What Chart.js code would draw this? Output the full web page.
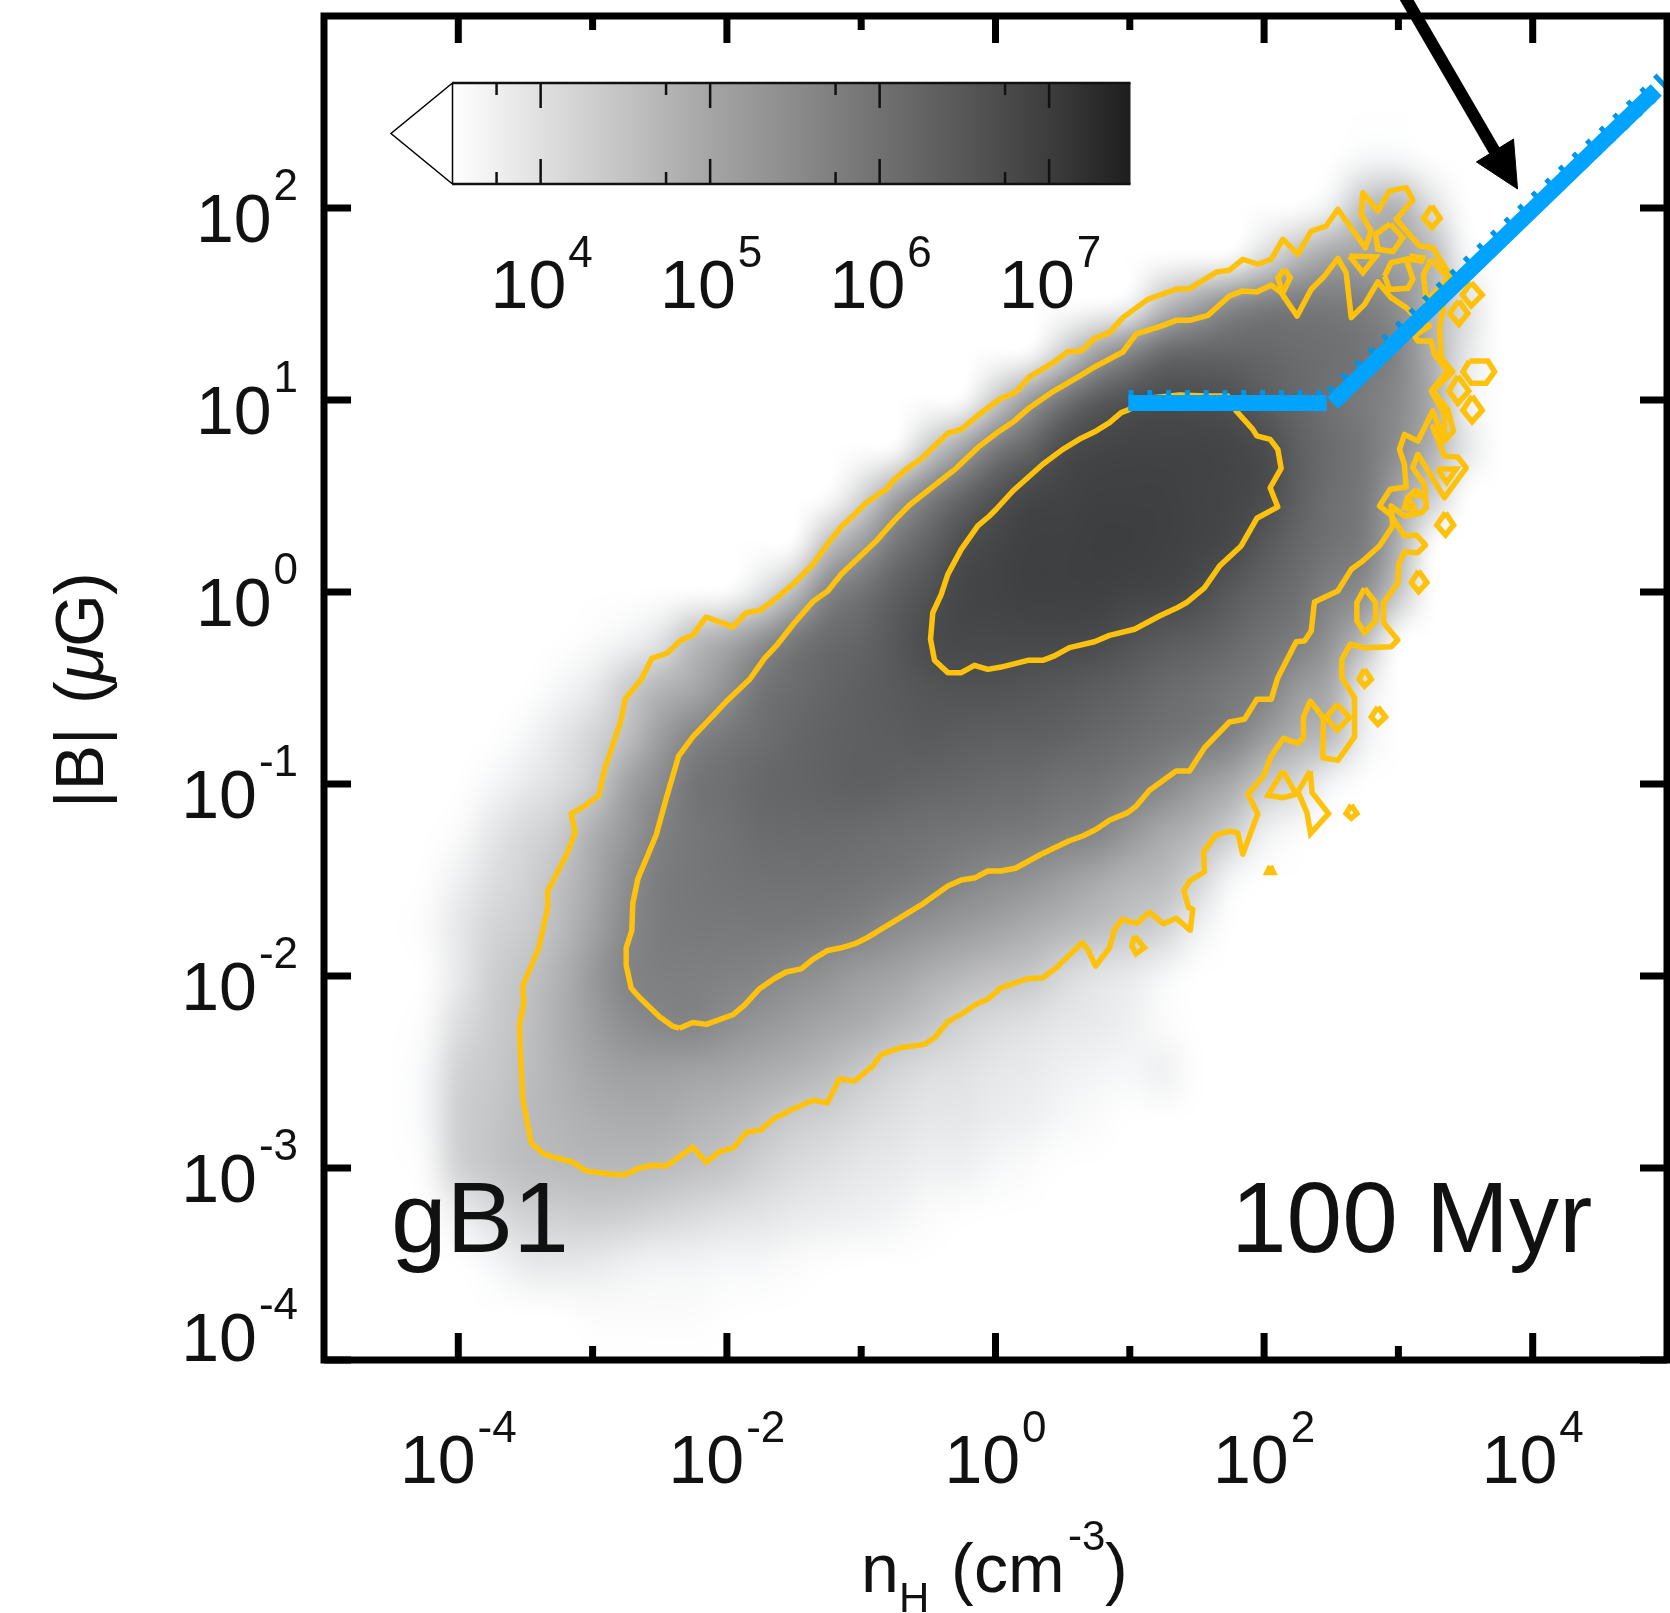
<!DOCTYPE html>
<html>
<head>
<meta charset="utf-8">
<title>gB1 100 Myr</title>
<script src="https://cdn.jsdelivr.net/npm/chart.js@4/dist/chart.umd.js"></script>
<style>
  body { margin: 0; background: #fff; }
  canvas { display: block; }
</style>
</head>
<body>
<canvas id="phase" width="1670" height="1613"></canvas>
<script>
// axes and ticks (powers of ten)
var xMajorPowers = [-4, -2, 0, 2, 4];
var xMinorPowers = [-3, -1, 1, 3];
var yMajorPowers = [2, 1, 0, -1, -2, -3, -4];
var cbMajorPowers = [4, 5, 6, 7];
var cbMinorPowers = [3.74, 4.74, 5.74, 6.74];

// colour bar: log10(count) -> grey level
var cbStopLogs = [3.48, 4, 5, 6, 7, 7.48];
var cbStopGreys = [255, 223, 164, 112, 60, 29];

// histogram: log10(count) per 0.25 dex cell
var heatStep = 0.25;
var heatLogB = [2.25, 2, 1.75, 1.5, 1.25, 1, 0.75, 0.5, 0.25, 0, -0.25, -0.5, -0.75, -1, -1.25, -1.5, -1.75, -2, -2.25, -2.5, -2.75, -3, -3.25, -3.5, -3.75];
var heatFromLogN = [2.75, 2.5, 2, 1, 0.5, 0, -0.5, -1, -1.25, -1.75, -3, -3.25, -3.5, -3.75, -4, -4.25, -4.25, -4.25, -4.25, -4.25, -4.25, -4.25, -4, -3.75, -3];
var heatCounts = [
  [3.6, 3.6],
  [3.7, 4.6, 4.8, 4.0],
  [4.0, 4.6, 5.0, 5.0, 5.0, 4.7, 3.6],
  [3.6, 4.5, 5.0, 5.5, 5.75, 5.8, 5.8, 5.7, 5.4, 4.7, 4.0],
  [4.2, 5.0, 5.6, 6.1, 6.2, 6.2, 6.15, 6.05, 6.0, 5.9, 5.6, 4.8, 3.9],
  [4.3, 5.2, 5.9, 6.4, 6.6, 6.7, 6.65, 6.6, 6.35, 6.15, 5.95, 5.75, 5.5, 4.9, 3.7],
  [4.3, 5.0, 5.8, 6.2, 6.7, 6.8, 6.85, 6.85, 6.85, 6.8, 6.7, 6.3, 6.05, 5.85, 5.4, 4.8, 3.9],
  [4.1, 5.0, 5.7, 6.2, 6.55, 6.8, 6.85, 6.9, 6.9, 6.9, 6.85, 6.8, 6.7, 6.3, 6.0, 5.8, 5.0, 4.3],
  [4.5, 5.1, 5.85, 6.25, 6.65, 6.8, 6.9, 6.9, 6.95, 6.95, 6.9, 6.85, 6.75, 6.45, 6.15, 5.95, 5.75, 4.8, 3.5],
  [3.9, 4.6, 5.6, 5.95, 6.3, 6.55, 6.8, 6.85, 6.9, 6.9, 6.9, 6.85, 6.8, 6.7, 6.4, 6.2, 6.0, 5.65, 5.4, 4.4],
  [3.55, 3.65, 3.9, 4.6, 4.9, 5.35, 5.85, 6.1, 6.2, 6.45, 6.7, 6.75, 6.75, 6.75, 6.75, 6.72, 6.55, 6.4, 6.3, 6.15, 5.95, 5.75, 5.3, 4.6],
  [3.6, 3.8, 4.3, 4.7, 4.9, 5.35, 5.9, 6.05, 6.2, 6.3, 6.4, 6.5, 6.55, 6.55, 6.5, 6.45, 6.35, 6.25, 6.1, 6.0, 5.85, 5.7, 5.2, 4.9, 3.8],
  [3.6, 3.85, 4.15, 4.5, 5.1, 5.6, 5.85, 6.0, 6.15, 6.25, 6.3, 6.35, 6.4, 6.35, 6.3, 6.3, 6.25, 6.15, 6.05, 5.95, 5.85, 5.65, 5.2, 4.8, 4.6, 3.7],
  [3.6, 3.8, 4.0, 4.3, 5.0, 5.45, 5.9, 6.0, 6.15, 6.2, 6.25, 6.3, 6.25, 6.2, 6.15, 6.1, 6.05, 5.95, 5.9, 5.75, 5.55, 5.2, 4.9, 4.4, 4.1, 3.6],
  [3.55, 3.85, 4.1, 4.3, 4.8, 5.2, 5.65, 5.85, 5.95, 6.05, 6.1, 6.1, 6.05, 6.0, 5.95, 5.9, 5.85, 5.8, 5.7, 5.6, 5.25, 4.9, 4.7, 4.3, 3.7, 3.55],
  [3.5, 3.7, 4.0, 4.2, 4.5, 4.9, 5.4, 5.75, 5.85, 5.9, 5.95, 5.95, 5.95, 5.9, 5.85, 5.75, 5.6, 5.45, 5.3, 5.1, 4.9, 4.7, 4.6, 4.2, 3.6],
  [3.55, 3.85, 4.15, 4.3, 4.6, 5.0, 5.5, 5.75, 5.8, 5.8, 5.8, 5.8, 5.75, 5.65, 5.45, 5.3, 5.15, 5.0, 4.85, 4.7, 4.55, 4.4, 4.2, 3.7],
  [3.5, 3.8, 4.25, 4.45, 4.75, 5.2, 5.6, 5.7, 5.7, 5.65, 5.6, 5.45, 5.3, 5.1, 5.0, 4.8, 4.65, 4.5, 4.4, 4.1, 3.9, 3.8, 3.6],
  [3.55, 4.0, 4.3, 4.5, 4.8, 5.1, 5.4, 5.55, 5.6, 5.4, 5.25, 5.1, 4.95, 4.85, 4.65, 4.45, 4.2, 4.05, 3.95, 3.85, 3.8, 3.7, 3.55],
  [3.6, 4.2, 4.35, 4.55, 4.75, 4.95, 5.05, 5.05, 5.0, 4.95, 4.85, 4.75, 4.6, 4.35, 4.15, 4.0, 3.95, 3.85, 3.8, 3.7, 3.65, 3.6, 3.7, 3.5],
  [3.6, 4.25, 4.4, 4.6, 4.7, 4.8, 4.85, 4.85, 4.75, 4.65, 4.5, 4.3, 4.2, 4.05, 3.95, 3.85, 3.85, 3.75, 3.7, 3.6, 3.55],
  [3.55, 4.2, 4.4, 4.55, 4.6, 4.65, 4.65, 4.6, 4.5, 4.4, 4.2, 4.05, 3.95, 3.85, 3.8, 3.7, 3.7, 3.6, 3.55],
  [3.7, 4.0, 4.2, 4.25, 4.3, 4.25, 4.15, 4.05, 3.95, 3.9, 3.8, 3.75, 3.7, 3.65, 3.55, 3.5],
  [3.6, 3.8, 3.85, 3.8, 3.7, 3.65, 3.65, 3.6, 3.6, 3.55, 3.5],
  [3.55, 3.55, 3.55, 3.55, 3.5]
];

// contours as [log10 nH, log10 |B|]
var outerContour = [
  [-2.85, -3.034], [-3.048, -3.016], [-3.147, -2.97], [-3.358, -2.93], [-3.457, -2.87], [-3.52, -2.641], [-3.539, -2.382], [-3.544, -2.252],
  [-3.512, -2.142], [-3.52, -2.052], [-3.4, -1.853], [-3.334, -1.643], [-3.334, -1.559], [-3.192, -1.364], [-3.13, -1.254], [-3.159, -1.154],
  [-3.06, -1.115], [-2.954, -1.059], [-2.911, -0.925], [-2.787, -0.666], [-2.757, -0.556], [-2.638, -0.456], [-2.559, -0.346], [-2.447, -0.32],
  [-2.345, -0.252], [-2.254, -0.224], [-2.154, -0.13], [-1.956, -0.182], [-1.856, -0.108], [-1.752, -0.095], [-1.658, -0.047], [-1.497, 0.048],
  [-1.36, 0.144], [-1.261, 0.24], [-1.149, 0.34], [-1.063, 0.396], [-0.963, 0.465], [-0.814, 0.535], [-0.752, 0.587], [-0.665, 0.639],
  [-0.553, 0.694], [-0.355, 0.827], [-0.255, 0.847], [-0.119, 0.926], [0.03, 1.004], [0.154, 1.043], [0.253, 1.12], [0.439, 1.199],
  [0.538, 1.252], [0.638, 1.255], [0.737, 1.321], [0.849, 1.351], [0.948, 1.429], [1.134, 1.524], [1.345, 1.577], [1.445, 1.58],
  [1.648, 1.667], [1.742, 1.676], [1.841, 1.733], [1.953, 1.707], [2.053, 1.733], [2.139, 1.837], [2.251, 1.759], [2.351, 1.88],
  [2.462, 1.906], [2.549, 1.993], [2.753, 1.793], [2.797, 1.88], [2.723, 1.967], [2.735, 2.08], [2.847, 1.984], [2.934, 2.089],
  [3.058, 2.106], [3.107, 2.042], [2.984, 1.941], [3.157, 1.802], [3.256, 1.793], [3.38, 1.655], [3.306, 1.377], [3.319, 1.22],
  [3.405, 1.147], [3.256, 1.047], [3.368, 0.951], [3.41, 0.839], [3.343, 0.786], [3.256, 0.943], [3.145, 0.786], [3.045, 0.821],
  [3.008, 0.743], [3.045, 0.665], [3.058, 0.547], [2.939, 0.535], [2.859, 0.448], [2.939, 0.405], [3.045, 0.292], [3.133, 0.297],
  [3.202, 0.245], [3.145, 0.205], [3.045, 0.21], [3.003, 0.144], [2.996, 0.048], [2.889, -0.056], [2.889, -0.16], [2.996, -0.25],
  [2.946, -0.285], [2.748, -0.29], [2.641, -0.272], [2.579, -0.351], [2.579, -0.446], [2.673, -0.551], [2.673, -0.755], [2.549, -0.877],
  [2.437, -0.863], [2.442, -0.655], [2.343, -0.568], [2.293, -0.651], [2.293, -0.759], [2.251, -0.79], [2.144, -0.762], [2.053, -0.854],
  [1.995, -0.958], [1.879, -1.054], [1.953, -1.155], [1.841, -1.366], [1.804, -1.254], [1.742, -1.245], [1.638, -1.266], [1.549, -1.353],
  [1.556, -1.457], [1.445, -1.505], [1.402, -1.554], [1.439, -1.644], [1.469, -1.653], [1.45, -1.762], [1.345, -1.699], [1.251, -1.728],
  [1.147, -1.667], [1.052, -1.726], [0.943, -1.705], [0.886, -1.757], [0.849, -1.853], [0.745, -1.948], [0.687, -1.861], [0.646, -1.826],
  [0.452, -1.957], [0.352, -2.009], [0.241, -2.014], [0.042, -2.061], [-0.057, -2.12], [-0.149, -2.148], [-0.255, -2.199], [-0.355, -2.238],
  [-0.454, -2.321], [-0.529, -2.356], [-0.702, -2.372], [-0.851, -2.408], [-0.914, -2.468], [-1.05, -2.547], [-1.162, -2.535], [-1.253, -2.661],
  [-1.36, -2.647], [-1.521, -2.697], [-1.646, -2.741], [-1.745, -2.8], [-1.856, -2.815], [-1.951, -2.894], [-2.055, -2.915], [-2.154, -2.97],
  [-2.254, -2.891], [-2.353, -2.941], [-2.452, -2.99], [-2.552, -2.986], [-2.651, -3.0], [-2.757, -3.034], [-2.85, -3.034]
];
var middleContour = [
  [-2.353, -2.272], [-2.403, -2.262], [-2.502, -2.212], [-2.651, -2.112], [-2.713, -2.063], [-2.75, -1.943], [-2.75, -1.853], [-2.708, -1.763],
  [-2.701, -1.623], [-2.663, -1.494], [-2.526, -1.264], [-2.452, -1.075], [-2.36, -0.855], [-2.254, -0.755], [-2.105, -0.645], [-1.993, -0.562],
  [-1.832, -0.456], [-1.72, -0.346], [-1.633, -0.281], [-1.497, -0.16], [-1.36, -0.05], [-1.249, 0.005], [-1.149, 0.092], [-0.888, 0.266],
  [-0.752, 0.373], [-0.64, 0.453], [-0.293, 0.644], [-0.119, 0.76], [0.03, 0.839], [0.141, 0.891], [0.253, 0.96], [0.415, 1.038],
  [0.638, 1.13], [0.737, 1.172], [0.948, 1.25], [1.048, 1.345], [1.234, 1.385], [1.345, 1.415], [1.445, 1.415], [1.581, 1.441],
  [1.742, 1.542], [1.841, 1.568], [1.946, 1.563], [2.053, 1.599], [2.127, 1.559], [2.246, 1.437], [2.351, 1.577], [2.45, 1.646],
  [2.549, 1.738], [2.611, 1.663], [2.649, 1.429], [2.748, 1.498], [2.847, 1.615], [2.946, 1.533], [3.058, 1.481], [3.157, 1.411],
  [3.232, 1.385], [3.12, 1.333], [3.145, 1.307], [3.244, 1.307], [3.269, 1.238], [3.368, 1.151], [3.244, 1.047], [3.343, 0.926],
  [3.343, 0.786], [3.256, 0.86], [3.343, 0.708], [3.442, 0.703], [3.505, 0.647], [3.343, 0.491], [3.145, 0.717], [3.107, 0.647],
  [3.194, 0.561], [3.207, 0.439], [3.17, 0.413], [3.045, 0.396], [2.946, 0.448], [2.958, 0.344], [2.859, 0.24], [2.735, 0.161],
  [2.649, 0.118], [2.549, 0.005], [2.375, -0.052], [2.351, -0.203], [2.301, -0.255], [2.239, -0.259], [2.102, -0.446], [2.053, -0.559],
  [1.946, -0.559], [1.854, -0.663], [1.742, -0.677], [1.556, -0.811], [1.445, -0.932], [1.345, -0.932], [1.147, -1.033], [1.048, -1.115],
  [0.985, -1.149], [0.849, -1.189], [0.75, -1.236], [0.65, -1.271], [0.546, -1.297], [0.34, -1.366], [0.149, -1.439], [0.042, -1.453],
  [-0.057, -1.453], [-0.149, -1.488], [-0.255, -1.5], [-0.355, -1.531], [-0.553, -1.63], [-0.715, -1.699], [-0.951, -1.799], [-1.05, -1.833],
  [-1.149, -1.853], [-1.249, -1.867], [-1.36, -1.913], [-1.447, -1.963], [-1.558, -1.979], [-1.646, -2.013], [-1.757, -2.066], [-1.869, -2.152],
  [-1.956, -2.202], [-2.154, -2.252], [-2.254, -2.242], [-2.353, -2.272]
];
var innerContour = [
  [0.998, 0.951], [0.936, 0.934], [0.849, 0.882], [0.75, 0.839], [0.638, 0.801], [0.501, 0.743], [0.352, 0.665], [0.129, 0.526],
  [0.005, 0.431], [-0.045, 0.396], [-0.132, 0.344], [-0.255, 0.222], [-0.355, 0.092], [-0.404, -0.012], [-0.467, -0.108], [-0.484, -0.246],
  [-0.454, -0.356], [-0.355, -0.42], [-0.255, -0.42], [-0.156, -0.382], [-0.057, -0.403], [0.042, -0.391], [0.241, -0.356], [0.352, -0.356],
  [0.439, -0.333], [0.551, -0.29], [0.737, -0.259], [0.849, -0.226], [1.035, -0.194], [1.221, -0.125], [1.345, -0.085], [1.42, -0.056],
  [1.556, 0.022], [1.668, 0.135], [1.829, 0.24], [1.946, 0.384], [2.102, 0.443], [2.045, 0.543], [2.127, 0.644], [2.102, 0.743],
  [2.045, 0.795], [1.946, 0.813], [1.916, 0.847], [1.792, 0.943], [1.73, 1.021], [1.569, 1.021], [1.37, 1.026], [1.171, 1.012], [0.998, 0.951]
];
// small closed loops along the right edge
var contourIslands = [
  [[3.351, 0.413], [3.411, 0.349], [3.351, 0.297], [3.286, 0.349]],
  [[3.15, 0.11], [3.212, 0.049], [3.15, 0.002], [3.095, 0.049]],
  [[2.748, 0.019], [2.83, -0.055], [2.83, -0.151], [2.748, -0.212], [2.691, -0.151], [2.691, -0.055]],
  [[2.748, -0.402], [2.798, -0.455], [2.748, -0.489], [2.706, -0.455]],
  [[2.847, -0.599], [2.904, -0.651], [2.847, -0.689], [2.798, -0.651]],
  [[2.544, -0.585], [2.636, -0.654], [2.544, -0.72], [2.462, -0.654]],
  [[2.14, -0.932], [2.239, -1.053], [2.14, -1.071], [2.028, -1.059]],
  [[2.343, -0.932], [2.358, -1.045], [2.48, -1.154], [2.346, -1.258], [2.319, -1.149], [2.252, -1.04]],
  [[2.649, -1.109], [2.691, -1.154], [2.649, -1.178], [2.611, -1.154]],
  [[2.046, -1.427], [2.07, -1.461], [2.023, -1.461]],
  [[3.071, 0.5], [3.12, 0.431], [3.046, 0.439]],
  [[3.133, 0.535], [3.17, 0.5], [3.095, 0.509]],
  [[3.29, 0.64], [3.43, 0.64], [3.36, 0.57]],
  [[3.249, 2.01], [3.311, 1.946], [3.249, 1.898], [3.187, 1.946]],
  [[3.542, 1.611], [3.624, 1.547], [3.542, 1.49], [3.475, 1.547]],
  [[3.45, 1.516], [3.517, 1.451], [3.45, 1.394], [3.381, 1.451]],
  [[3.529, 1.203], [3.666, 1.203], [3.716, 1.148], [3.654, 1.087], [3.542, 1.087], [3.48, 1.148]],
  [[3.443, 1.125], [3.524, 1.047], [3.443, 0.983], [3.376, 1.047]],
  [[3.549, 1.021], [3.624, 0.946], [3.549, 0.887], [3.48, 0.946]],
  [[2.939, 1.918], [3.033, 1.845], [2.959, 1.773], [2.847, 1.785], [2.83, 1.863]],
  [[2.636, 1.75], [2.83, 1.746], [2.735, 1.663]],
  [[2.897, 1.646], [2.946, 1.715], [3.058, 1.733], [3.108, 1.628], [3.07, 1.582], [2.934, 1.576]],
  [[2.152, 1.681], [2.194, 1.637], [2.14, 1.559], [2.102, 1.637]],
  [[3.083, 1.75], [3.182, 1.741], [3.17, 1.724], [3.083, 1.733]],
  [[3.244, 1.733], [3.368, 1.637], [3.306, 1.585], [3.207, 1.516], [3.187, 1.654]],
  [[1.035, -1.792], [1.109, -1.852], [1.047, -1.884], [1.015, -1.844]]
];

// blue relation and arrow
var blueFlat = [[0.99, 0.984], [2.465, 0.984]];
var blueSlope = [[2.51, 0.984], [4.92, 2.615]];
var blueDotted = [[0.99, 1], [2.487, 1], [5, 2.68]];
var arrowShaft = [[3.045, 3.104], [3.716, 2.297]];
var arrowHead = [[3.887, 2.099], [3.581, 2.24], [3.857, 2.359], [3.887, 2.099]];

var FONT = '"Liberation Sans", Arial, sans-serif';
var INK = '#111';

function toPoints(list) {
  return list.map(function(p) {
    return { x: Math.pow(10, p[0]), y: Math.pow(10, p[1]) };
  });
}

function heatPoints() {
  var pts = [];
  heatCounts.forEach(function(row, i) {
    row.forEach(function(v, j) {
      pts.push({
        x: Math.pow(10, heatFromLogN[i] + j * heatStep),
        y: Math.pow(10, heatLogB[i]),
        v: v
      });
    });
  });
  return pts;
}

function greyOf(v) {
  if (v <= cbStopLogs[0]) return cbStopGreys[0];
  for (var i = 1; i < cbStopLogs.length; i++) {
    if (v <= cbStopLogs[i]) {
      var t = (v - cbStopLogs[i - 1]) / (cbStopLogs[i] - cbStopLogs[i - 1]);
      return cbStopGreys[i - 1] + t * (cbStopGreys[i] - cbStopGreys[i - 1]);
    }
  }
  return cbStopGreys[cbStopGreys.length - 1];
}

// draws the histogram dataset as one smoothed image placed with the scales
var heatmapPlugin = {
  id: 'heatmap',
  beforeDatasetsDraw: function(chart) {
    var xs = chart.scales.x, ys = chart.scales.y;
    var pts = chart.data.datasets[0].data;
    var lxMin = -5.25, lxMax = 4.75, lyMin = -4.25, lyMax = 3;
    var cols = Math.round((lxMax - lxMin) / heatStep) + 1;
    var rows = Math.round((lyMax - lyMin) / heatStep) + 1;
    var off = document.createElement('canvas');
    off.width = cols;
    off.height = rows;
    var octx = off.getContext('2d');
    var img = octx.createImageData(cols, rows);
    for (var k = 0; k < img.data.length; k++) img.data[k] = 255;
    pts.forEach(function(p) {
      var c = Math.round((Math.log10(p.x) - lxMin) / heatStep);
      var r = Math.round((lyMax - Math.log10(p.y)) / heatStep);
      var g = greyOf(p.v);
      var n = (r * cols + c) * 4;
      img.data[n] = g - (g < 250 ? 2 : 0);
      img.data[n + 1] = g - (g < 250 ? 1 : 0);
      img.data[n + 2] = g;
    });
    octx.putImageData(img, 0, 0);
    var half = heatStep / 2;
    var left = xs.getPixelForValue(Math.pow(10, lxMin - half));
    var right = xs.getPixelForValue(Math.pow(10, lxMax + half));
    var top = ys.getPixelForValue(Math.pow(10, lyMax + half));
    var bottom = ys.getPixelForValue(Math.pow(10, lyMin - half));
    var ctx = chart.ctx, a = chart.chartArea;
    ctx.save();
    ctx.beginPath();
    ctx.rect(a.left, a.top, a.right - a.left, a.bottom - a.top);
    ctx.clip();
    ctx.imageSmoothingEnabled = true;
    ctx.imageSmoothingQuality = 'high';
    ctx.drawImage(off, left, top, right - left, bottom - top);
    ctx.restore();
  }
};

function drawPower(ctx, exp, x, baseline, bigSize, smallSize, raise, align) {
  var big = bigSize + 'px ' + FONT, small = smallSize + 'px ' + FONT;
  ctx.font = big;
  var w10 = ctx.measureText('10').width;
  ctx.font = small;
  var wExp = ctx.measureText(exp).width;
  var start = x;
  if (align === 'center') start = x - (w10 + 2 + wExp) / 2;
  if (align === 'right') start = x - (w10 + 2 + wExp);
  ctx.textAlign = 'left';
  ctx.textBaseline = 'alphabetic';
  ctx.fillStyle = INK;
  ctx.font = big;
  ctx.fillText('10', start, baseline);
  ctx.font = small;
  ctx.fillText(exp, start + w10 + 2, baseline - raise);
}

var framePlugin = {
  id: 'frame',
  afterDatasetsDraw: function(chart) {
    var ctx = chart.ctx, a = chart.chartArea, xs = chart.scales.x, ys = chart.scales.y;
    ctx.save();
    ctx.strokeStyle = '#000';
    ctx.fillStyle = '#000';
    // ticks inside the frame, on all four sides
    ctx.lineWidth = 7;
    ctx.beginPath();
    xMajorPowers.forEach(function(p) {
      var x = xs.getPixelForValue(Math.pow(10, p));
      ctx.moveTo(x, a.top); ctx.lineTo(x, a.top + 27);
      ctx.moveTo(x, a.bottom); ctx.lineTo(x, a.bottom - 27);
    });
    xMinorPowers.forEach(function(p) {
      var x = xs.getPixelForValue(Math.pow(10, p));
      ctx.moveTo(x, a.top); ctx.lineTo(x, a.top + 14);
      ctx.moveTo(x, a.bottom); ctx.lineTo(x, a.bottom - 14);
    });
    yMajorPowers.forEach(function(p) {
      var y = ys.getPixelForValue(Math.pow(10, p));
      ctx.moveTo(a.left, y); ctx.lineTo(a.left + 27, y);
      ctx.moveTo(a.right, y); ctx.lineTo(a.right - 27, y);
    });
    ctx.stroke();
    ctx.strokeRect(a.left, a.top, a.right - a.left, a.bottom - a.top);

    // tick labels
    xMajorPowers.forEach(function(p) {
      drawPower(ctx, String(p), xs.getPixelForValue(Math.pow(10, p)), 1483, 68, 44, 41, 'center');
    });
    yMajorPowers.forEach(function(p) {
      var y = ys.getPixelForValue(Math.pow(10, p));
      drawPower(ctx, String(p), 298, p === -4 ? y + 1 : y + 34, 68, 44, 42, 'right');
    });

    // axis titles
    ctx.fillStyle = INK;
    ctx.textBaseline = 'alphabetic';
    ctx.textAlign = 'left';
    var big = '68px ' + FONT, small = '42px ' + FONT;
    ctx.font = big;
    ctx.fillText('n', 861, 1592);
    ctx.fillText('(', 951, 1592);
    ctx.fillText('cm', 974, 1592);
    ctx.fillText(')', 1105, 1592);
    ctx.font = small;
    ctx.fillText('H', 899, 1612);
    ctx.fillText('-3', 1068, 1550);

    ctx.save();
    ctx.translate(103, 802);
    ctx.rotate(-Math.PI / 2);
    ctx.font = big;
    ctx.fillText('|B|', -6, 0);
    ctx.fillText('(', 98, 0);
    ctx.fillText('G', 155, 0);
    ctx.fillText(')', 207, 0);
    ctx.font = 'italic ' + big;
    ctx.fillText('\u03bc', 120, 0);
    ctx.restore();

    // panel labels
    ctx.font = '100px ' + FONT;
    ctx.fillText('gB1', 391, 1252);
    ctx.fillText('100 Myr', 1231, 1252);

    // colour bar
    var cbL = 452.5, cbR = 1130.5, cbT = 83, cbB = 184;
    var cbMin = cbStopLogs[0], cbMax = cbStopLogs[cbStopLogs.length - 1];
    var cbX = function(v) { return cbL + (v - cbMin) / (cbMax - cbMin) * (cbR - cbL); };
    var grad = ctx.createLinearGradient(cbL, 0, cbR, 0);
    cbStopLogs.forEach(function(v, i) {
      var g = cbStopGreys[i];
      grad.addColorStop((v - cbMin) / (cbMax - cbMin), 'rgb(' + g + ',' + Math.min(g + 1, 255) + ',' + g + ')');
    });
    ctx.fillStyle = grad;
    ctx.fillRect(cbL, cbT, cbR - cbL, cbB - cbT);
    ctx.strokeStyle = '#000';
    ctx.lineWidth = 1.5;
    ctx.fillStyle = '#fff';
    ctx.beginPath();
    ctx.moveTo(cbL, cbT); ctx.lineTo(391, (cbT + cbB) / 2); ctx.lineTo(cbL, cbB); ctx.closePath();
    ctx.fill();
    ctx.stroke();
    ctx.strokeStyle = '#111';
    ctx.lineWidth = 2.5;
    ctx.beginPath();
    ctx.moveTo(cbL, cbT); ctx.lineTo(cbR, cbT);
    ctx.moveTo(cbL, cbB); ctx.lineTo(cbR, cbB);
    cbMajorPowers.forEach(function(p) {
      ctx.moveTo(cbX(p), cbT); ctx.lineTo(cbX(p), cbT + 25);
      ctx.moveTo(cbX(p), cbB); ctx.lineTo(cbX(p), cbB - 25);
    });
    cbMinorPowers.forEach(function(p) {
      ctx.moveTo(cbX(p), cbT); ctx.lineTo(cbX(p), cbT + 12);
      ctx.moveTo(cbX(p), cbB); ctx.lineTo(cbX(p), cbB - 12);
    });
    ctx.stroke();
    cbMajorPowers.forEach(function(p) {
      drawPower(ctx, String(p), cbX(p) + 1, 308, 68, 44, 41, 'center');
    });
    ctx.restore();
  }
};

var lineStyle = function(points, color, width, extra) {
  var d = {
    data: toPoints(points),
    showLine: true,
    pointRadius: 0,
    borderColor: color,
    backgroundColor: color,
    borderWidth: width,
    tension: 0,
    fill: false,
    borderCapStyle: 'butt',
    borderJoinStyle: 'miter'
  };
  return Object.assign(d, extra || {});
};

var AMBER = '#fec20c';
var BLUE = '#00a3ff';
var contourDatasets = [outerContour, middleContour, innerContour].concat(contourIslands).map(function(c, i) {
  var closed = i > 2 ? c.concat([c[0]]) : c;
  return lineStyle(closed, AMBER, 5.5, { order: 5, borderJoinStyle: i > 2 ? 'miter' : 'round' });
});

new Chart(document.getElementById('phase'), {
  type: 'scatter',
  data: {
    datasets: [
      { data: heatPoints(), pointRadius: 0, showLine: false, order: 9 }
    ].concat(contourDatasets, [
      lineStyle(blueDotted, '#0094e6', 20, { order: 4, borderDash: [5, 13.8] }),
      lineStyle(blueFlat, BLUE, 16, { order: 3 }),
      lineStyle(blueSlope, BLUE, 16, { order: 3 }),
      lineStyle(arrowShaft, '#000', 12, { order: 2, clip: false }),
      lineStyle(arrowHead, '#000', 1, { order: 1, fill: 'shape', clip: false })
    ])
  },
  options: {
    responsive: false,
    animation: false,
    layout: { padding: { left: 324, top: 16, right: 3, bottom: 253 } },
    plugins: { legend: { display: false }, tooltip: { enabled: false } },
    scales: {
      x: { type: 'logarithmic', min: 1e-5, max: 1e5, display: false },
      y: { type: 'logarithmic', min: 1e-4, max: 1e3, display: false }
    }
  },
  plugins: [heatmapPlugin, framePlugin]
});
</script>
</body>
</html>
